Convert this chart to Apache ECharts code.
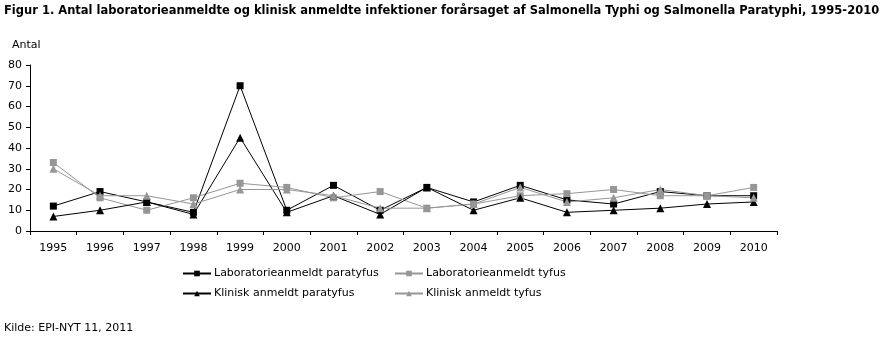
<!DOCTYPE html>
<html>
<head>
<meta charset="utf-8">
<script src="https://cdn.jsdelivr.net/npm/echarts@6/dist/echarts.min.js"></script>
<style>
  html, body { margin: 0; padding: 0; background: #fff; }
  #chart { width: 890px; height: 337px; }
</style>
</head>
<body>
<div id="chart"></div>
<script>
// Years on the category axis
const years = ['1995','1996','1997','1998','1999','2000','2001','2002','2003','2004','2005','2006','2007','2008','2009','2010'];

// Reported cases per year
const labParatyfus   = [12, 19, 14, 9, 70, 10, 22, 10, 21, 14, 22, 15, 13, 19, 17, 17];
const labTyfus       = [33, 16, 10, 16, 23, 21, 16, 19, 11, 13, 17, 18, 20, 17, 17, 21];
const klinParatyfus  = [7, 10, 14, 8, 45, 9, 17, 8, 21, 10, 16, 9, 10, 11, 13, 14];
const klinTyfus      = [30, 17, 17, 13, 20, 20, 17, 11, 11, 13, 21, 14, 16, 20, 17, 16];

// Y-axis range
const yTicks = { min: 0, max: 80, interval: 10 };

const FONT = 'DejaVu Sans, Verdana, sans-serif';
const BLACK = '#000000';
const GREY = '#969696';

function lineSeries(name, data, color, symbol, size) {
  return {
    name, type: 'line', data,
    symbol, symbolSize: size,
    lineStyle: { color, width: 1 },
    itemStyle: { color },
    emphasis: { disabled: true },
    animation: false
  };
}

const chart = echarts.init(document.getElementById('chart'), null, { renderer: 'canvas' });

const legendBase = {
  orient: 'vertical',
  top: 263,
  itemWidth: 28,
  itemHeight: 7,
  itemGap: 9,
  selectedMode: false,
  textStyle: { fontFamily: FONT, fontSize: 11, color: '#000', padding: [0, 0, 0, -2] }
};

chart.setOption({
  backgroundColor: '#fff',
  animation: false,
  title: [
    {
      text: 'Figur 1. Antal laboratorieanmeldte og klinisk anmeldte infektioner forårsaget af Salmonella Typhi og Salmonella Paratyphi, 1995-2010',
      left: -1, top: 0,
      textStyle: { fontFamily: FONT, fontSize: 11.5, fontWeight: 'bold', color: '#000' }
    },
    {
      text: 'Antal',
      left: 7, top: 35,
      textStyle: { fontFamily: FONT, fontSize: 11, fontWeight: 'normal', color: '#000' }
    },
    {
      text: 'Kilde: EPI-NYT 11, 2011',
      left: -1, top: 318,
      textStyle: { fontFamily: FONT, fontSize: 11, fontWeight: 'normal', color: '#000' }
    }
  ],
  legend: [
    Object.assign({}, legendBase, { left: 177, data: ['Laboratorieanmeldt paratyfus', 'Klinisk anmeldt paratyfus'] }),
    Object.assign({}, legendBase, { left: 389, data: ['Laboratorieanmeldt tyfus', 'Klinisk anmeldt tyfus'] })
  ],
  grid: { left: 30, right: 113, top: 65, bottom: 106, containLabel: false },
  xAxis: {
    type: 'category',
    data: years,
    boundaryGap: true,
    axisLine: { lineStyle: { color: '#000', width: 1 } },
    axisTick: { show: true, alignWithLabel: false, length: 4, lineStyle: { color: '#000' } },
    axisLabel: { fontFamily: FONT, fontSize: 11, color: '#000', margin: 12, interval: 0 },
    splitLine: { show: false }
  },
  yAxis: {
    type: 'value',
    min: yTicks.min, max: yTicks.max, interval: yTicks.interval,
    axisLine: { show: true, lineStyle: { color: '#000', width: 1 } },
    axisTick: { show: true, length: 4, lineStyle: { color: '#000' } },
    axisLabel: { fontFamily: FONT, fontSize: 11, color: '#000', margin: 8 },
    splitLine: { show: false }
  },
  series: [
    lineSeries('Laboratorieanmeldt paratyfus', labParatyfus, BLACK, 'rect', 7),
    lineSeries('Laboratorieanmeldt tyfus', labTyfus, GREY, 'rect', 7),
    lineSeries('Klinisk anmeldt paratyfus', klinParatyfus, BLACK, 'triangle', 8),
    lineSeries('Klinisk anmeldt tyfus', klinTyfus, GREY, 'triangle', 8)
  ]
});
</script>
</body>
</html>
